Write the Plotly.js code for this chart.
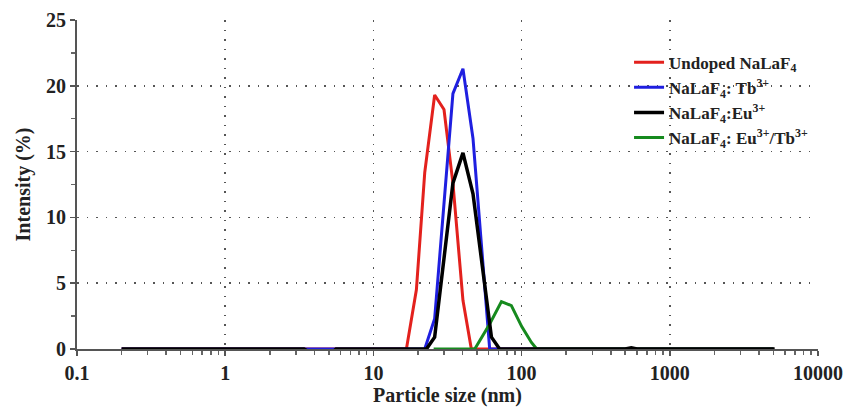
<!DOCTYPE html>
<html>
<head>
<meta charset="utf-8">
<script src="https://cdn.plot.ly/plotly-3.0.1.min.js"></script>
<style>html,body{margin:0;padding:0;background:#fff;}#chart{width:846px;height:407px;}</style>
</head>
<body>
<div id="chart"></div>
<script>
// Particle size (nm) and intensity (%) for each sample
const undopedX = [0.2, 16.7, 19.5, 22.2, 25.9, 29.95, 34.4, 40.2, 45.8, 5000];
const undopedY = [0, 0, 4.5, 13.4, 19.3, 18.2, 12.6, 3.7, 0, 0];

const tbX = [0.2, 22.2, 25.9, 34.4, 40.2, 47.0, 60.9, 5000];
const tbY = [0, 0, 2.3, 19.4, 21.3, 16.0, 0, 0];

const euTbX = [25.5, 48.3, 60.9, 73.1, 85.3, 100.2, 116.5, 126.5, 5000];
const euTbY = [0, 0, 1.9, 3.6, 3.3, 1.7, 0.5, 0, 0];

const euX = [0.2, 3.4, 3.6, 5.4, 5.6, 22.8, 25.9, 34.4, 40.2, 47.0, 62.6, 71.1, 500, 550, 600, 5100];
const euY = [0, 0, -0.15, -0.15, 0, 0, 0.9, 12.6, 14.9, 11.8, 0.9, 0, 0, 0.1, 0, 0];

const seriesNames = [
  'Undoped NaLaF<sub>4</sub>',
  'NaLaF<sub>4</sub>: Tb<sup>3+</sup>',
  'NaLaF<sub>4</sub>:Eu<sup>3+</sup>',
  'NaLaF<sub>4</sub>: Eu<sup>3+</sup>/Tb<sup>3+</sup>'
];
const xTickVals = [0.1, 1, 10, 100, 1000, 10000];
const xTickText = ['0.1', '1', '10', '100', '1000', '10000'];

const traces = [
  {x: undopedX, y: undopedY, name: seriesNames[0], line: {color: '#e3211d', width: 3}, legendrank: 1},
  {x: tbX, y: tbY, name: seriesNames[1], line: {color: '#1f1fe0', width: 3}, legendrank: 2},
  {x: euTbX, y: euTbY, name: seriesNames[3], line: {color: '#168a1e', width: 3}, legendrank: 4},
  {x: euX, y: euY, name: seriesNames[2], line: {color: '#000000', width: 3.5}, legendrank: 3}
].map(t => Object.assign({type: 'scatter', mode: 'lines', hoverinfo: 'skip'}, t));

const serif = 'Liberation Serif, Times New Roman, serif';
const layout = {
  width: 846, height: 407,
  margin: {l: 77, r: 28, t: 20, b: 58},
  paper_bgcolor: '#fff', plot_bgcolor: '#fff',
  font: {family: serif, color: '#222'},
  showlegend: true,
  legend: {
    x: 0.745, y: 0.925, xanchor: 'left', yanchor: 'top',
    bgcolor: 'rgba(255,255,255,0)', borderwidth: 0,
    font: {family: serif, size: 17, color: '#222', weight: 'bold'},
    tracegroupgap: 0, itemwidth: 30
  },
  xaxis: {
    type: 'log', range: [-1, 4],
    tickmode: 'array', tickvals: xTickVals, ticktext: xTickText,
    ticks: 'outside', ticklen: 5, tickwidth: 1.5, tickcolor: '#555',
    minor: {ticks: 'outside', ticklen: 4, tickcolor: '#666', dtick: 'D1', showgrid: false},
    showline: true, linecolor: '#555', linewidth: 2,
    showgrid: true, gridcolor: '#555', gridwidth: 1.5, griddash: '1.5px,8px',
    zeroline: false,
    tickfont: {family: serif, size: 20, color: '#222', weight: 'bold'},
    title: {text: 'Particle size (nm)', font: {family: serif, size: 20, color: '#222', weight: 'bold'}, standoff: 6}
  },
  yaxis: {
    range: [0, 25], dtick: 5, tick0: 0,
    ticks: 'outside', ticklen: 5, tickwidth: 1.5, tickcolor: '#555',
    minor: {ticks: 'outside', ticklen: 4, tickcolor: '#666', dtick: 2.5, showgrid: false},
    showline: true, linecolor: '#555', linewidth: 2,
    showgrid: true, gridcolor: '#555', gridwidth: 1.5, griddash: '1.5px,8px',
    zeroline: false,
    tickfont: {family: serif, size: 20, color: '#222', weight: 'bold'},
    title: {text: 'Intensity (%)', font: {family: serif, size: 20, color: '#222', weight: 'bold'}, standoff: 10}
  }
};

Plotly.newPlot('chart', traces, layout, {displayModeBar: false, staticPlot: true});
</script>
</body>
</html>
